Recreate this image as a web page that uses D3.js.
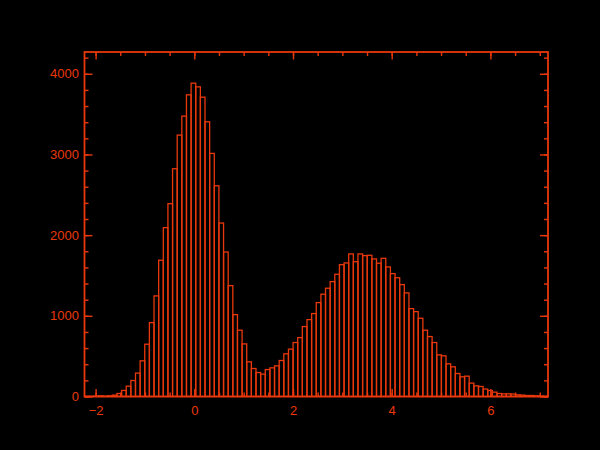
<!DOCTYPE html>
<html>
<head>
<meta charset="utf-8">
<script src="https://cdn.jsdelivr.net/npm/d3@7"></script>
<style>
    html, body { margin: 0; padding: 0; background: #000; }
    svg { display: block; }
</style>
</head>
<body>
<svg width="600" height="450"></svg>
<script>
// histogram: 100 bins spanning the x range
var xMin = -2.225
var xMax = 7.167
var yMax = 4270

var xMajorTicks = [-2, 0, 2, 4, 6]
var yMajorTicks = [0, 1000, 2000, 3000, 4000]

var counts = [
    2, 2, 3, 8, 4, 8, 17,
    37, 75, 128, 198, 290, 442, 648, 916, 1247, 1689, 2093, 2390, 2823, 3240,
    3475, 3739, 3884, 3838, 3710, 3405, 3013, 2612, 2150, 1791, 1374, 1015, 822,
    652, 430, 347, 297, 277, 334, 355, 380, 446, 529, 587, 669, 730, 867, 953,
    1028, 1164, 1268, 1342, 1424, 1515, 1634, 1655, 1767, 1671, 1767, 1746, 1750,
    1705, 1652, 1713, 1606, 1523,
    1472, 1387, 1284, 1089, 1052, 970, 822, 743, 669, 516, 504, 405, 368, 285,
    244, 252, 166, 132, 124, 92, 74, 54, 37, 33, 33, 30, 21, 17, 12, 12, 8, 5, 3
]

var red = "#e8380c"

function createChart() {
    var svg = d3.select("svg"),
        left = 84.5,
        top = 52,
        width = 548 - left,
        height = 396.5 - top;

    var binWidth = (xMax - xMin) / counts.length

    var xScale = d3.scaleLinear().domain([xMin, xMax]).range([0, width]),
        yScale = d3.scaleLinear().domain([0, yMax]).range([height, 0]);

    var xMinor = d3.range(-2, xMax, 0.5),
        yMinor = d3.range(0, yMax, 200);

    var g = svg.append("g")
        .attr("transform", "translate(" + left + "," + top + ")");

    // bars
    g.selectAll(".bar")
        .data(counts)
        .enter().append("rect")
        .attr("class", "bar")
        .attr("x", function (d, i) {
            return xScale(xMin + i * binWidth);
        })
        .attr("y", function (d) {
            return yScale(d);
        })
        .attr("width", function (d, i) {
            return xScale(xMin + (i + 1) * binWidth) - xScale(xMin + i * binWidth);
        })
        .attr("height", function (d) {
            return height - yScale(d);
        })
        .attr("fill", "none")
        .attr("stroke", red)
        .attr("stroke-width", 1.3);

    // bottom axis, labels + major ticks pointing up
    g.append("g")
        .attr("class", "axis")
        .attr("transform", "translate(0," + height + ")")
        .call(d3.axisBottom(xScale).tickValues(xMajorTicks).tickSize(-7.5).tickPadding(9.5)
            .tickFormat(d3.format("d")));
    g.append("g")
        .attr("class", "axis")
        .attr("transform", "translate(0," + height + ")")
        .call(d3.axisBottom(xScale).tickValues(xMinor).tickSize(-4).tickFormat(""));

    // top axis
    g.append("g")
        .attr("class", "axis")
        .call(d3.axisTop(xScale).tickValues(xMajorTicks).tickSize(-7.5).tickFormat(""));
    g.append("g")
        .attr("class", "axis")
        .call(d3.axisTop(xScale).tickValues(xMinor).tickSize(-4).tickFormat(""));

    // left axis
    g.append("g")
        .attr("class", "axis")
        .call(d3.axisLeft(yScale).tickValues(yMajorTicks).tickSize(-8).tickPadding(5.5)
            .tickFormat(d3.format("d")));
    g.append("g")
        .attr("class", "axis")
        .call(d3.axisLeft(yScale).tickValues(yMinor).tickSize(-4).tickFormat(""));

    // right axis
    g.append("g")
        .attr("class", "axis")
        .attr("transform", "translate(" + width + ",0)")
        .call(d3.axisRight(yScale).tickValues(yMajorTicks).tickSize(-8).tickFormat(""));
    g.append("g")
        .attr("class", "axis")
        .attr("transform", "translate(" + width + ",0)")
        .call(d3.axisRight(yScale).tickValues(yMinor).tickSize(-4).tickFormat(""));

    g.selectAll(".axis .domain").remove();
    g.selectAll(".axis line")
        .attr("stroke", red)
        .attr("stroke-width", 1.4);
    g.selectAll(".axis text")
        .attr("fill", red)
        .style("font-family", "'Liberation Sans', Arial, sans-serif")
        .style("font-size", "13px");

    // frame
    g.append("rect")
        .attr("width", width)
        .attr("height", height)
        .attr("fill", "none")
        .attr("stroke", red)
        .attr("stroke-width", 1.8);
}

createChart()
</script>
</body>
</html>
